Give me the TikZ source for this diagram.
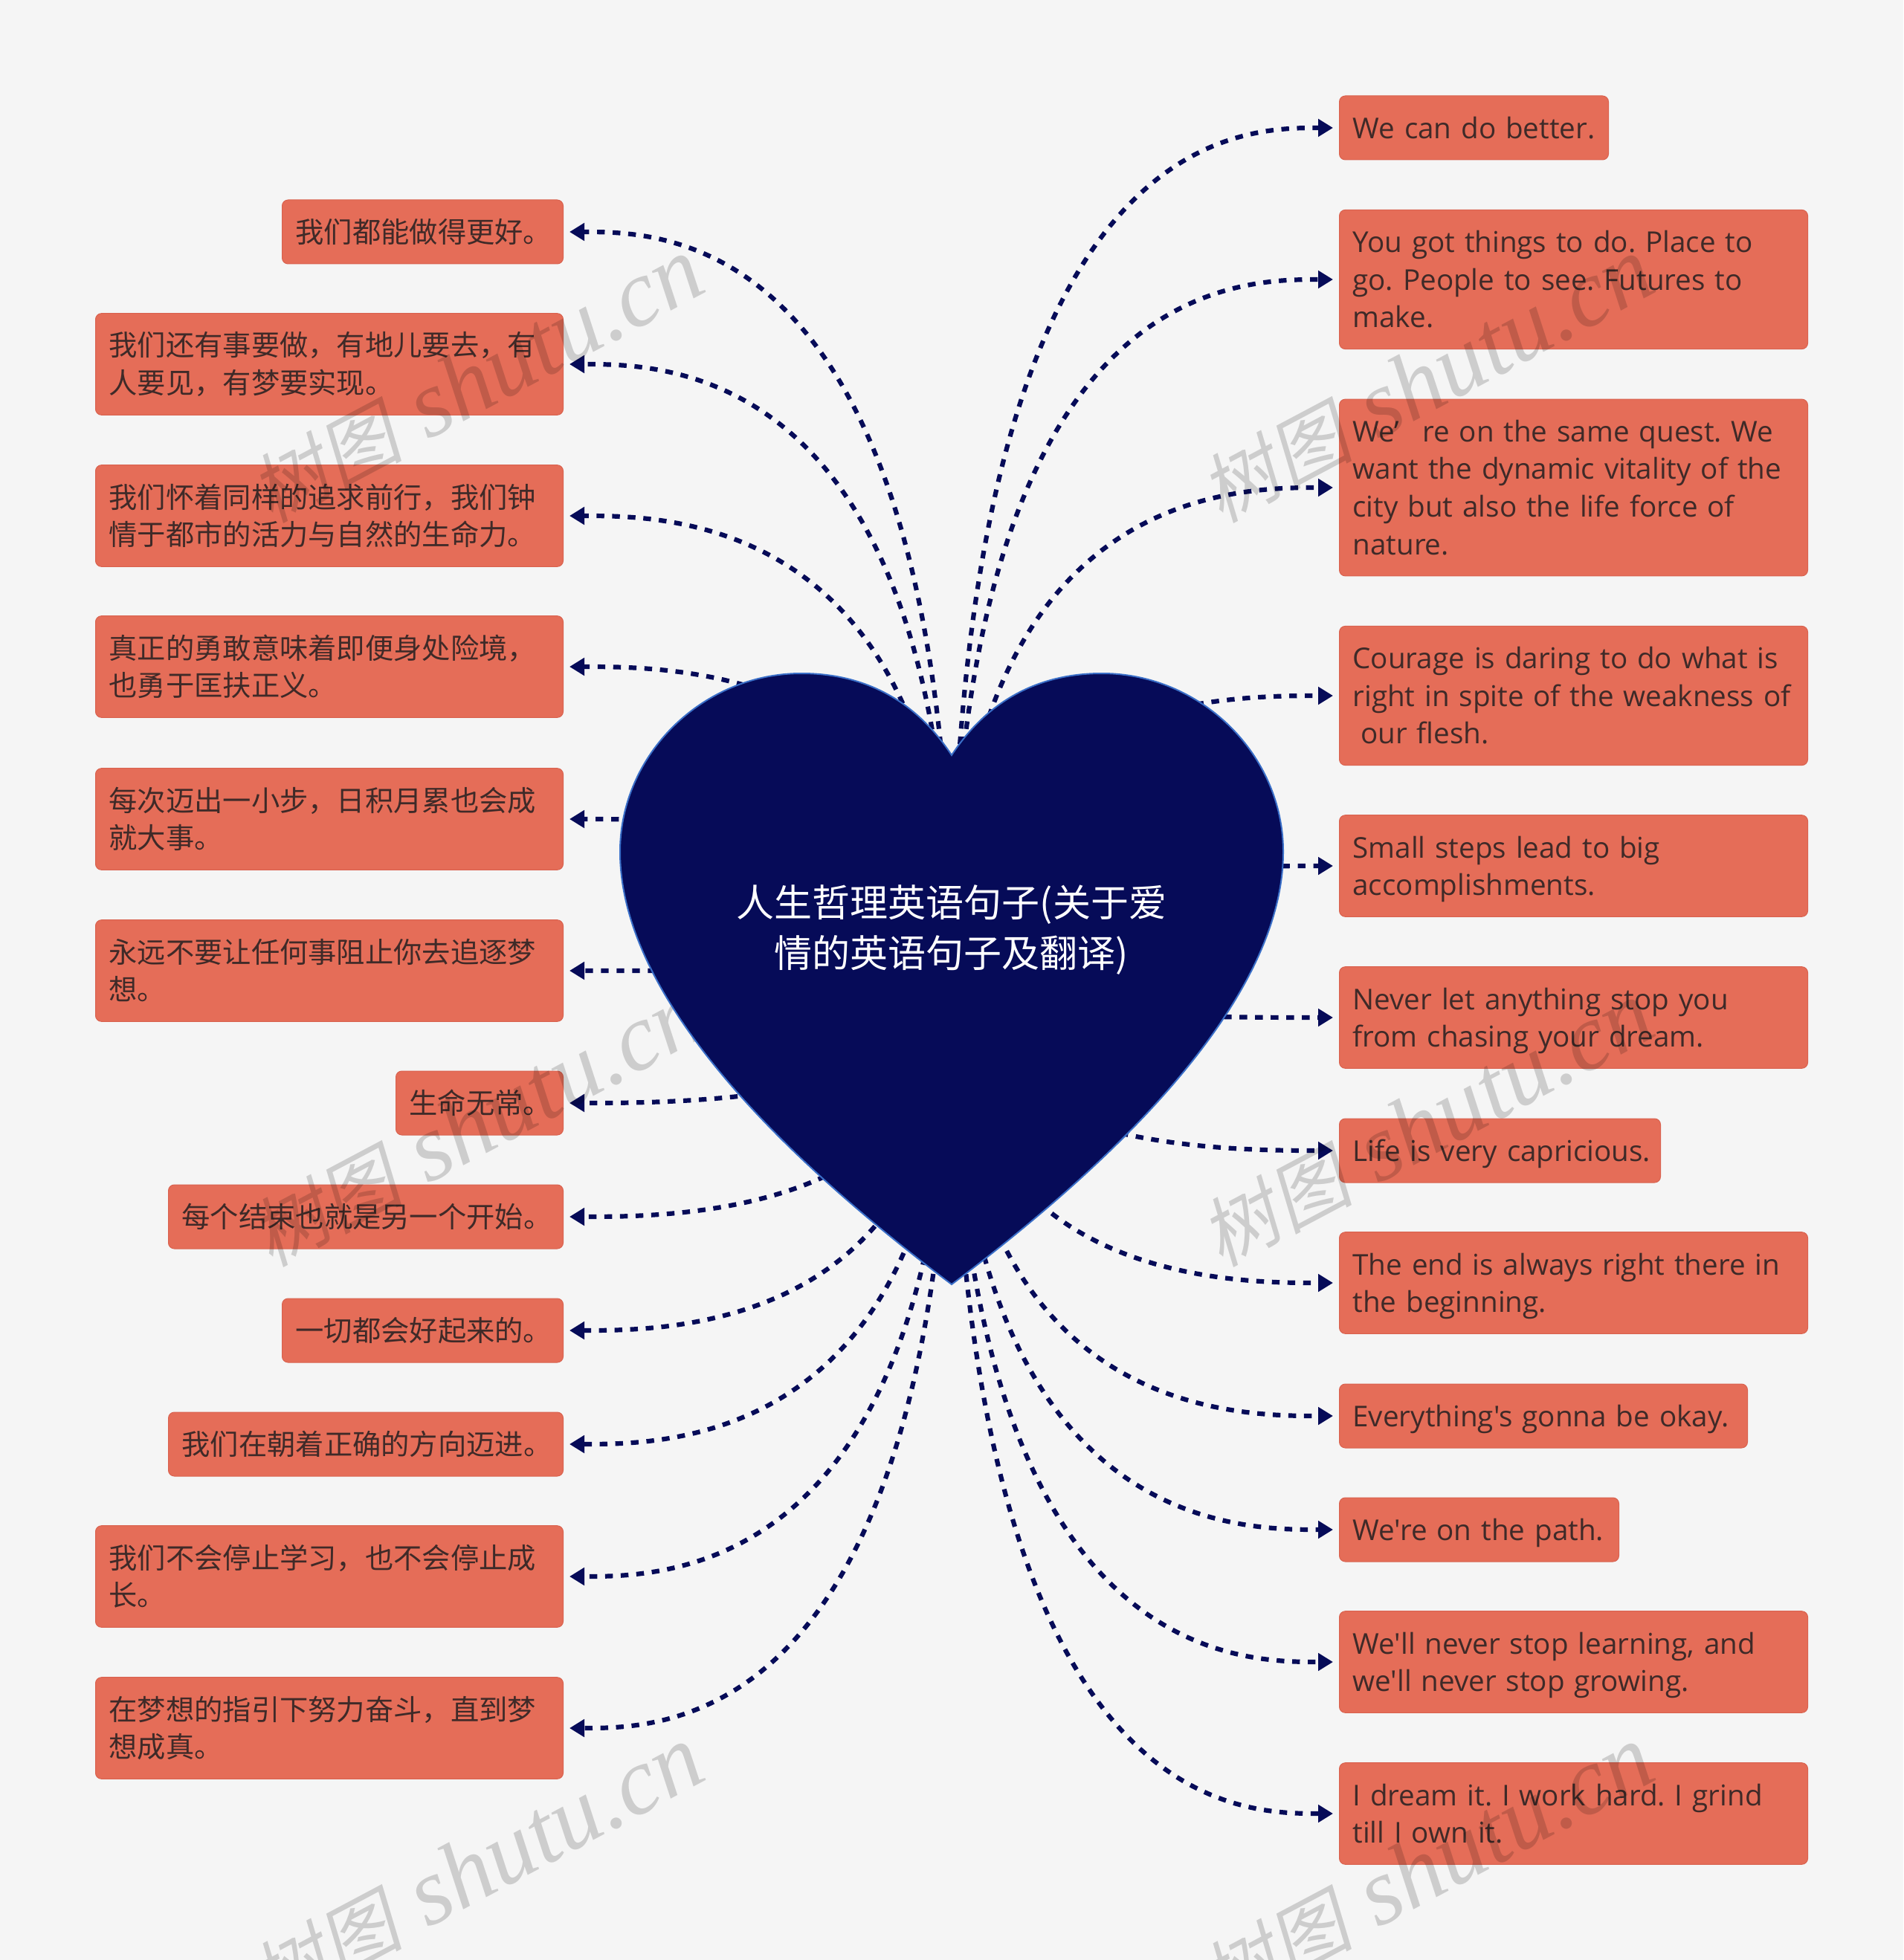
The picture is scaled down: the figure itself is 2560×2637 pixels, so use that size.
\documentclass[tikz,border=0pt]{standalone}
\usepackage{fontspec}
\usepackage{amsmath}
\setmainfont{Open Sans}[Ligatures=TeXOff]
\newfontfamily\cjk{Noto Sans CJK SC}
\newfontfamily\markserif{Liberation Serif}[ItalicFont=* Italic]
\newfontfamily\markcjk{Noto Sans CJK SC}[FakeSlant=0.2]
\usetikzlibrary{arrows.meta,calc}
\definecolor{pagebg}{HTML}{F5F5F5}
\definecolor{leaffill}{HTML}{E56D58}
\definecolor{leafline}{HTML}{D9624F}
\definecolor{leaftext}{HTML}{3F2A28}
\definecolor{heartfill}{HTML}{060B58}
\definecolor{heartline}{HTML}{3A6FC8}
\newcommand{\leafstrut}{\rule[-5.5pt]{0pt}{25.3pt}}
\tikzset{
    leaf/.style={rectangle, rounded corners=4pt, draw=leafline, line width=.5pt, fill=leaffill, text=leaftext,
        inner xsep=9pt, inner ysep=8.85pt, text width=#1, align=left,
        font=\fontsize{19.3}{25.3}\selectfont\frenchspacing, execute at begin node=\leafstrut, execute at end node=\leafstrut},
    rleaf/.style={leaf=#1, anchor=west},
    lleaf/.style={leaf=#1, anchor=east, font=\fontsize{19.15}{25.3}\selectfont\cjk},
    link/.style={heartfill, line width=3.1pt, dash pattern=on 5.2pt off 5.3pt, shorten >=4pt,
        -{Triangle[length=10pt,width=11.5pt]},
        to path={.. controls (\tikztostart |- \tikztotarget) and ($(\tikztostart |- \tikztotarget)!0.73!(\tikztotarget)$) .. (\tikztotarget)}},
    wmark/.style={rotate=28, text=black, opacity=.16}
}
\begin{document}
\begin{tikzpicture}[x=.5pt,y=-.5pt]
    \useasboundingbox (0,0) rectangle (2560,2637);
    \fill[pagebg] (0,0) rectangle (2560,2637);
    \clip (0,0) rectangle (2560,2637);

    \node[rleaf=163pt] (r1) at (1801,172) {We can do better.};
    \node[rleaf=297pt] (r2) at (1801,376) {You got things to do. Place to\\go. People to see. Futures to\\make.};
    \node[rleaf=297pt] (r3) at (1801,656) {We’\hspace{.8em}re on the same quest. We\\want the dynamic vitality of the\\city but also the life force of\\nature.};
    \node[rleaf=297pt] (r4) at (1801,936) {Courage is daring to do what is\\right in spite of the weakness of\\\hspace*{.28em}our flesh.};
    \node[rleaf=297pt] (r5) at (1801,1165) {Small steps lead to big\\accomplishments.};
    \node[rleaf=297pt] (r6) at (1801,1369) {Never let anything stop you\\from chasing your dream.};
    \node[rleaf=198pt] (r7) at (1801,1548) {\mbox{Life is very capricious.}};
    \node[rleaf=297pt] (r8) at (1801,1726) {The end is always right there in\\the beginning.};
    \node[rleaf=256.5pt] (r9) at (1801,1905) {Everything's gonna be okay.};
    \node[rleaf=170pt] (r10) at (1801,2058) {We're on the path.};
    \node[rleaf=297pt] (r11) at (1801,2236) {We'll never stop learning, and\\we'll never stop growing.};
    \node[rleaf=297pt] (r12) at (1801,2440) {I dream it. I work hard. I grind\\till I own it.};

    \node[lleaf=171pt] (l1) at (758,312) {我们都能做得更好。};
    \node[lleaf=296.5pt] (l2) at (758,490) {我们还有事要做，有地儿要去，有\\人要见，有梦要实现。};
    \node[lleaf=296.5pt] (l3) at (758,694) {我们怀着同样的追求前行，我们钟\\情于都市的活力与自然的生命力。};
    \node[lleaf=296.5pt] (l4) at (758,897) {真正的勇敢意味着即便身处险境，\\也勇于匡扶正义。};
    \node[lleaf=296.5pt] (l5) at (758,1102) {每次迈出一小步，日积月累也会成\\就大事。};
    \node[lleaf=296.5pt] (l6) at (758,1306) {永远不要让任何事阻止你去追逐梦\\想。};
    \node[lleaf=94.5pt] (l7) at (758,1484) {生命无常。};
    \node[lleaf=247.5pt] (l8) at (758,1637) {每个结束也就是另一个开始。};
    \node[lleaf=171pt] (l9) at (758,1790) {一切都会好起来的。};
    \node[lleaf=247.5pt] (l10) at (758,1943) {我们在朝着正确的方向迈进。};
    \node[lleaf=296.5pt] (l11) at (758,2121) {我们不会停止学习，也不会停止成\\长。};
    \node[lleaf=296.5pt] (l12) at (758,2325) {在梦想的指引下努力奋斗，直到梦\\想成真。};

    \coordinate (hub) at (1280,1316);
    \foreach \n in {r1,r2,r3,r4,r5,r6,r7,r8,r9,r10,r11,r12} {
        \draw[link] (hub) to (\n.west);
    }
    \foreach \n in {l1,l2,l3,l4,l5,l6,l7,l8,l9,l10,l11,l12} {
        \draw[link] (hub) to (\n.east);
    }

    \foreach \wx/\wy [count=\i] in {641/512,641/1513,641/2514,1919/512,1919/1513,1919/2514} {
        \node[wmark] (wm\i) at (\wx,\wy) {{\fontsize{51}{51}\selectfont\markcjk 树图}\hspace{17pt}{\fontsize{64}{64}\selectfont\markserif\itshape shutu.cn}};
    }

    \draw[fill=heartfill, draw=heartline, line width=1pt] (1280,1016)
        .. controls (1330,940) and (1400,906) .. (1482,906)
        .. controls (1615,906) and (1726,1015) .. (1726,1146)
        .. controls (1726,1350) and (1490,1570) .. (1280,1728)
        .. controls (1070,1570) and (834,1350) .. (834,1146)
        .. controls (834,1015) and (945,906) .. (1078,906)
        .. controls (1160,906) and (1230,940) .. (1280,1016) -- cycle;
    \node[text=white, align=center, font=\fontsize{25.5}{33.6}\selectfont\cjk] (title) at (1280,1251) {人生哲理英语句子(关于爱\\情的英语句子及翻译)};
\end{tikzpicture}
\end{document}
